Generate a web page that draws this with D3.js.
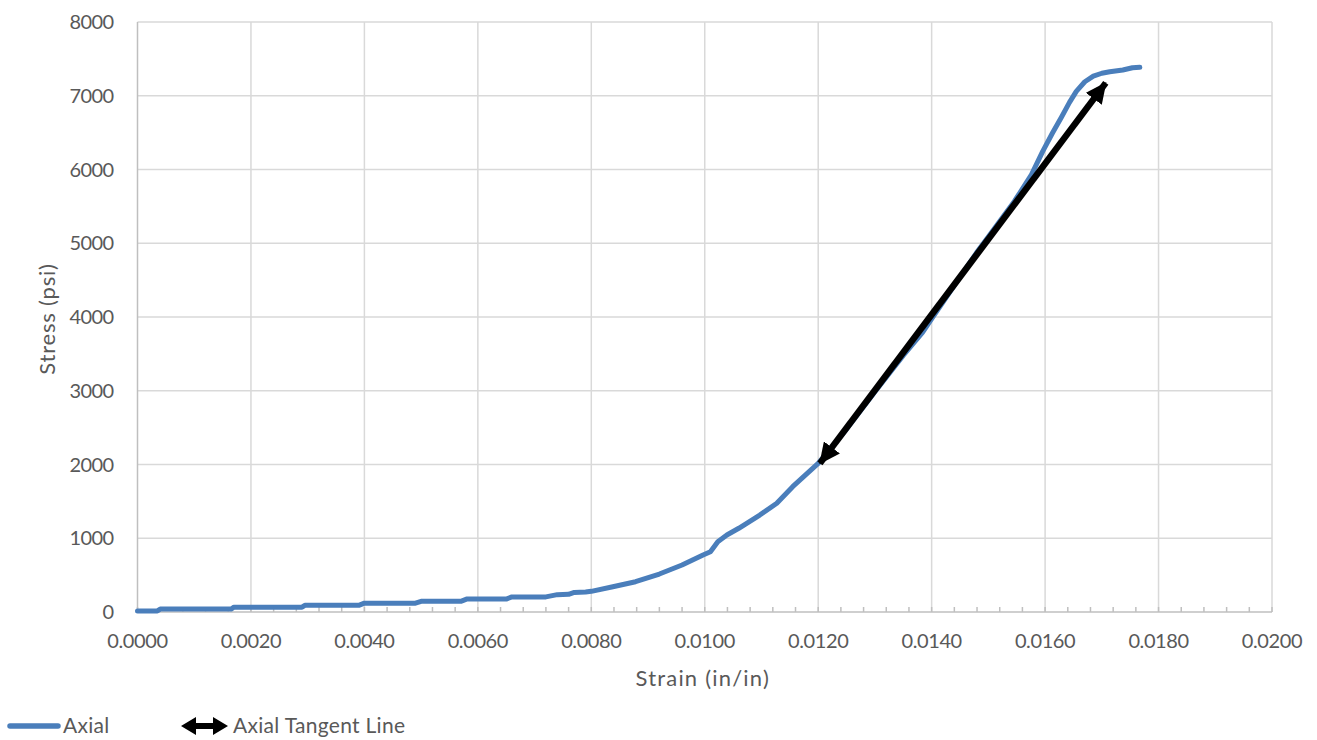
<!DOCTYPE html>
<head>
  <meta charset="utf-8">
  <script src="https://d3js.org/d3.v7.min.js"></script>
  <style>
    body { margin: 0; background: #fff; }
    text { font-family: Lato, "Open Sans", sans-serif; fill: #595959; }
  </style>
</head>
<body>
  <script>
    // chart values
    var strainValues = [0, 0.00035, 0.0004, 0.00165, 0.0017, 0.0029, 0.00295, 0.0039, 0.004, 0.0049,
      0.005, 0.0057, 0.0058, 0.0065, 0.0066, 0.0072, 0.0074, 0.0076, 0.0077, 0.0079,
      0.0080, 0.00838, 0.00878, 0.0092, 0.0096, 0.00997, 0.0101, 0.01023, 0.01039, 0.0106,
      0.01097, 0.01127, 0.01155, 0.0120, 0.0125, 0.0130, 0.0135, 0.01384, 0.01402, 0.0145,
      0.01479, 0.0150, 0.01546, 0.01576, 0.01596, 0.01613, 0.01629, 0.01643, 0.01655, 0.0167,
      0.01685, 0.01700, 0.01714, 0.01737, 0.01754, 0.01767];
    var stressValues = [15, 15, 40, 40, 65, 65, 90, 90, 120, 120,
      145, 145, 175, 175, 205, 205, 235, 240, 265, 270,
      280, 343, 411, 515, 637, 773, 818, 953, 1044, 1135,
      1315, 1474, 1699, 2016, 2480, 2985, 3480, 3790, 4000, 4540,
      4870, 5090, 5570, 5930, 6250, 6495, 6712, 6910, 7060, 7190,
      7265, 7305, 7326, 7349, 7380, 7386];

    var tangentStrain = [0.01203, 0.01707];
    var tangentStress = [2015, 7175];

    var xTicks = d3.range(0, 0.02001, 0.002);
    var xMinorTicks = d3.range(0, 0.02001, 0.0004);
    var yTicks = d3.range(0, 8001, 1000);

    var seriesNames = ["Axial", "Axial Tangent Line"];

    var outerWidth = 1317,
      outerHeight = 740;

    var margin = { top: 22, left: 137.5, right: 45, bottom: 128 };
    var width = outerWidth - margin.left - margin.right,
      height = outerHeight - margin.top - margin.bottom;

    var blue = "#4a7ebb";

    var xScale = d3.scaleLinear().domain([0, 0.02]).range([0, width]);
    var yScale = d3.scaleLinear().domain([0, 8000]).range([height, 0]);

    var svg = d3.select("body").append("svg")
      .attr("width", outerWidth)
      .attr("height", outerHeight);

    // arrow head for the tangent line
    svg.append("defs").append("marker")
      .attr("id", "head")
      .attr("markerUnits", "userSpaceOnUse")
      .attr("viewBox", "0 0 21 20")
      .attr("markerWidth", 21)
      .attr("markerHeight", 20)
      .attr("refX", 20)
      .attr("refY", 10)
      .attr("orient", "auto-start-reverse")
      .append("path")
      .attr("d", "M0,0 L21,10 L0,20 Z")
      .attr("fill", "#000");

    var g = svg.append("g")
      .attr("transform", "translate(" + margin.left + "," + margin.top + ")");

    // gridlines
    g.append("g").selectAll("line").data(yTicks.slice(1)).enter().append("line")
      .attr("x1", 0).attr("x2", width)
      .attr("y1", d => yScale(d)).attr("y2", d => yScale(d))
      .attr("stroke", "#d9d9d9").attr("stroke-width", 1.5);
    g.append("g").selectAll("line").data(xTicks.slice(1)).enter().append("line")
      .attr("y1", 0).attr("y2", height)
      .attr("x1", d => xScale(d)).attr("x2", d => xScale(d))
      .attr("stroke", "#d9d9d9").attr("stroke-width", 1.5);

    // minor ticks on x axis, pointing up
    g.append("g").selectAll("line").data(xMinorTicks).enter().append("line")
      .attr("x1", d => xScale(d)).attr("x2", d => xScale(d))
      .attr("y1", height).attr("y2", height - 5)
      .attr("stroke", "#bfbfbf").attr("stroke-width", 1.5);

    // axes lines
    g.append("line").attr("x1", 0).attr("x2", width).attr("y1", height).attr("y2", height)
      .attr("stroke", "#bfbfbf").attr("stroke-width", 1.5);
    g.append("line").attr("x1", 0).attr("x2", 0).attr("y1", 0).attr("y2", height)
      .attr("stroke", "#bfbfbf").attr("stroke-width", 1.5);

    // tick labels
    g.append("g").selectAll("text").data(xTicks).enter().append("text")
      .attr("x", d => xScale(d))
      .attr("y", height + 36)
      .attr("text-anchor", "middle")
      .style("font-size", "20px")
      .style("letter-spacing", "-0.4px")
      .text(d => d3.format(".4f")(d));

    g.append("g").selectAll("text").data(yTicks).enter().append("text")
      .attr("x", -24)
      .attr("y", d => yScale(d) + 7)
      .attr("text-anchor", "end")
      .style("font-size", "20px")
      .style("letter-spacing", "-0.6px")
      .text(d => d);

    // axis titles
    g.append("text")
      .attr("x", width / 2 - 2)
      .attr("y", height + 74)
      .attr("text-anchor", "middle")
      .style("font-size", "22px")
      .style("letter-spacing", "1.2px")
      .text("Strain (in/in)");

    g.append("text")
      .attr("transform", "translate(" + (-83) + "," + (height / 2 + 2) + ") rotate(-90)")
      .attr("text-anchor", "middle")
      .style("font-size", "22px")
      .style("letter-spacing", "0.8px")
      .text("Stress (psi)");

    // axial curve
    var curveData = strainValues.map((s, i) => [s, stressValues[i]]);
    var line = d3.line()
      .x(d => xScale(d[0]))
      .y(d => yScale(d[1]));

    g.append("path")
      .datum(curveData)
      .attr("d", line)
      .attr("fill", "none")
      .attr("stroke", blue)
      .attr("stroke-width", 5)
      .attr("stroke-linejoin", "round")
      .attr("stroke-linecap", "round");

    // tangent line with arrows both ends
    var tangentData = tangentStrain.map((s, i) => [s, tangentStress[i]]);
    g.append("path")
      .datum(tangentData)
      .attr("d", line)
      .attr("fill", "none")
      .attr("stroke", "#000")
      .attr("stroke-width", 6.5)
      .attr("marker-start", "url(#head)")
      .attr("marker-end", "url(#head)");

    // legend
    var legend = svg.append("g").attr("transform", "translate(0,726)");
    legend.append("line")
      .attr("x1", 10).attr("x2", 58).attr("y1", 0).attr("y2", 0)
      .attr("stroke", blue).attr("stroke-width", 5.5).attr("stroke-linecap", "round");
    legend.append("text")
      .attr("x", 63).attr("y", 7)
      .style("font-size", "21px")
      .style("letter-spacing", "0.3px")
      .text(seriesNames[0]);

    // double-headed legend glyph
    legend.append("path")
      .attr("d", "M181,0 L196,-9 L196,-3 L213,-3 L213,-9 L228,0 L213,9 L213,3 L196,3 L196,9 Z")
      .attr("fill", "#000");
    legend.append("text")
      .attr("x", 233).attr("y", 7)
      .style("font-size", "21px")
      .style("letter-spacing", "0.3px")
      .text(seriesNames[1]);
  </script>
</body>
